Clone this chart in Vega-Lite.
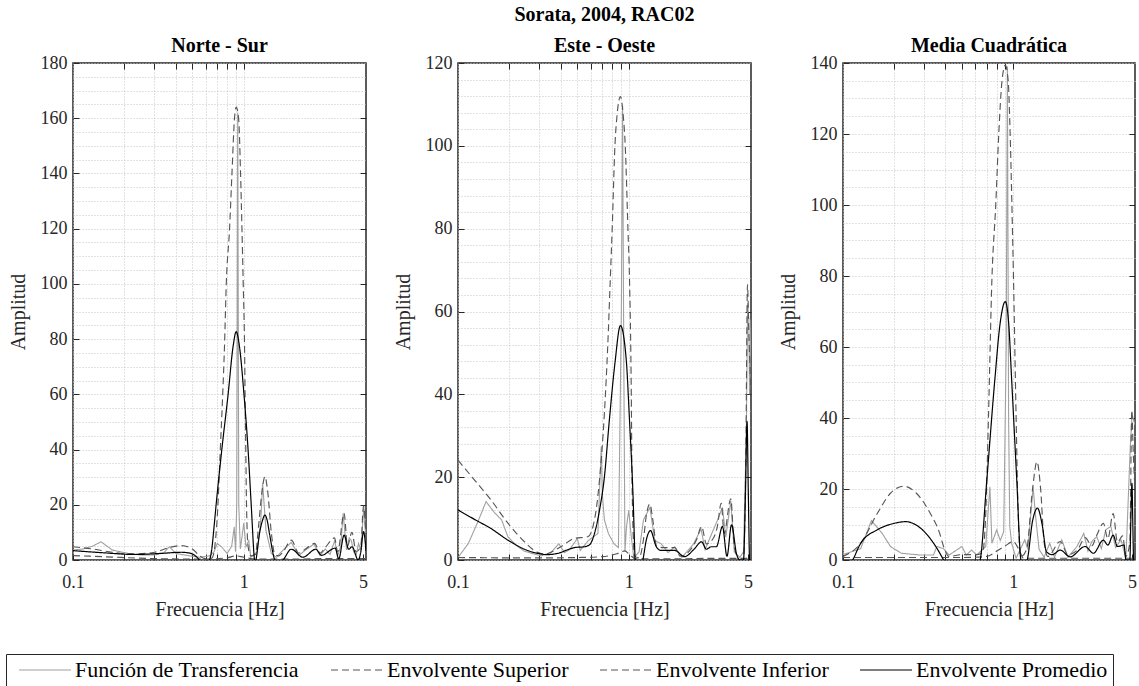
{
 "$schema": "https://vega.github.io/schema/vega-lite/v6.json",
 "padding": {"left": 5, "top": 5, "right": 3, "bottom": 0},
 "title": {"text": "Sorata, 2004, RAC02", "anchor": "middle", "frame": "bounds", "dx": 33, "fontSize": 20, "fontWeight": "bold", "font": "Liberation Serif", "color": "#000", "offset": 10},
 "data": {"values": [
{"p":1,"s":"T","f":0.1,"a":3.6},{"p":1,"s":"T","f":0.115,"a":4.0},{"p":1,"s":"T","f":0.13,"a":5.0},{"p":1,"s":"T","f":0.146,"a":6.6},{"p":1,"s":"T","f":0.17,"a":3.6},{"p":1,"s":"T","f":0.21,"a":2.4},{"p":1,"s":"T","f":0.25,"a":1.8},{"p":1,"s":"T","f":0.3,"a":1.8},{"p":1,"s":"T","f":0.34,"a":2.6},{"p":1,"s":"T","f":0.367,"a":4.8},{"p":1,"s":"T","f":0.4,"a":2.4},{"p":1,"s":"T","f":0.47,"a":1.6},{"p":1,"s":"T","f":0.55,"a":1.0},{"p":1,"s":"T","f":0.63,"a":1.5},{"p":1,"s":"T","f":0.67,"a":3.0},{"p":1,"s":"T","f":0.7,"a":6.0},{"p":1,"s":"T","f":0.74,"a":4.8},{"p":1,"s":"T","f":0.8,"a":2.4},{"p":1,"s":"T","f":0.85,"a":5},{"p":1,"s":"T","f":0.88,"a":12},{"p":1,"s":"T","f":0.895,"a":3},{"p":1,"s":"T","f":0.91,"a":20},{"p":1,"s":"T","f":0.922,"a":162},{"p":1,"s":"T","f":0.935,"a":20},{"p":1,"s":"T","f":0.955,"a":4},{"p":1,"s":"T","f":0.975,"a":8},{"p":1,"s":"T","f":1.0,"a":13.4},{"p":1,"s":"T","f":1.03,"a":4.8},{"p":1,"s":"T","f":1.07,"a":7},{"p":1,"s":"T","f":1.1,"a":1.0},{"p":1,"s":"T","f":1.2,"a":3},{"p":1,"s":"T","f":1.26,"a":15},{"p":1,"s":"T","f":1.29,"a":27.8},{"p":1,"s":"T","f":1.35,"a":10.6},{"p":1,"s":"T","f":1.45,"a":2.4},{"p":1,"s":"T","f":1.55,"a":1.0},{"p":1,"s":"T","f":1.7,"a":3.6},{"p":1,"s":"T","f":1.9,"a":6.4},{"p":1,"s":"T","f":2.1,"a":1.6},{"p":1,"s":"T","f":2.3,"a":3.6},{"p":1,"s":"T","f":2.58,"a":5.8},{"p":1,"s":"T","f":2.8,"a":1.6},{"p":1,"s":"T","f":3.0,"a":4.0},{"p":1,"s":"T","f":3.2,"a":2},{"p":1,"s":"T","f":3.41,"a":7},{"p":1,"s":"T","f":3.55,"a":1.5},{"p":1,"s":"T","f":3.7,"a":5},{"p":1,"s":"T","f":3.82,"a":16.9},{"p":1,"s":"T","f":4.0,"a":3.6},{"p":1,"s":"T","f":4.15,"a":8},{"p":1,"s":"T","f":4.27,"a":7},{"p":1,"s":"T","f":4.4,"a":3},{"p":1,"s":"T","f":4.55,"a":1.6},{"p":1,"s":"T","f":4.7,"a":6},{"p":1,"s":"T","f":4.85,"a":3.6},{"p":1,"s":"T","f":5.05,"a":19.3},{"p":1,"s":"T","f":5.2,"a":7},
{"p":1,"s":"S","f":0.1,"a":4.8},{"p":1,"s":"S","f":0.13,"a":4.0},{"p":1,"s":"S","f":0.17,"a":2.8},{"p":1,"s":"S","f":0.23,"a":2.2},{"p":1,"s":"S","f":0.3,"a":2.8},{"p":1,"s":"S","f":0.37,"a":4.6},{"p":1,"s":"S","f":0.43,"a":5.2},{"p":1,"s":"S","f":0.5,"a":4.0},{"p":1,"s":"S","f":0.55,"a":1.6},{"p":1,"s":"S","f":0.6,"a":0.4},{"p":1,"s":"S","f":0.65,"a":0.7},{"p":1,"s":"S","f":0.67,"a":3},{"p":1,"s":"S","f":0.706,"a":20},{"p":1,"s":"S","f":0.729,"a":40},{"p":1,"s":"S","f":0.753,"a":60},{"p":1,"s":"S","f":0.771,"a":77},{"p":1,"s":"S","f":0.79,"a":100},{"p":1,"s":"S","f":0.826,"a":120},{"p":1,"s":"S","f":0.853,"a":140},{"p":1,"s":"S","f":0.883,"a":160},{"p":1,"s":"S","f":0.903,"a":164},{"p":1,"s":"S","f":0.933,"a":160},{"p":1,"s":"S","f":0.958,"a":140},{"p":1,"s":"S","f":0.976,"a":120},{"p":1,"s":"S","f":0.993,"a":100},{"p":1,"s":"S","f":1.011,"a":77},{"p":1,"s":"S","f":1.02,"a":55},{"p":1,"s":"S","f":1.028,"a":40},{"p":1,"s":"S","f":1.038,"a":20},{"p":1,"s":"S","f":1.06,"a":5},{"p":1,"s":"S","f":1.1,"a":1.5},{"p":1,"s":"S","f":1.17,"a":2},{"p":1,"s":"S","f":1.22,"a":12},{"p":1,"s":"S","f":1.28,"a":25},{"p":1,"s":"S","f":1.33,"a":30.2},{"p":1,"s":"S","f":1.38,"a":25},{"p":1,"s":"S","f":1.45,"a":10},{"p":1,"s":"S","f":1.52,"a":2},{"p":1,"s":"S","f":1.6,"a":1.5},{"p":1,"s":"S","f":1.7,"a":3},{"p":1,"s":"S","f":1.9,"a":7.2},{"p":1,"s":"S","f":2.1,"a":2.5},{"p":1,"s":"S","f":2.3,"a":4},{"p":1,"s":"S","f":2.6,"a":6},{"p":1,"s":"S","f":2.8,"a":2.5},{"p":1,"s":"S","f":3.0,"a":4.5},{"p":1,"s":"S","f":3.4,"a":8},{"p":1,"s":"S","f":3.55,"a":3},{"p":1,"s":"S","f":3.87,"a":16.9},{"p":1,"s":"S","f":4.05,"a":5},{"p":1,"s":"S","f":4.3,"a":10},{"p":1,"s":"S","f":4.55,"a":3},{"p":1,"s":"S","f":4.85,"a":5},{"p":1,"s":"S","f":5.03,"a":19.6},{"p":1,"s":"S","f":5.2,"a":8},
{"p":1,"s":"I","f":0.1,"a":1.6},{"p":1,"s":"I","f":0.15,"a":1.2},{"p":1,"s":"I","f":0.3,"a":0.5},{"p":1,"s":"I","f":0.6,"a":0.3},{"p":1,"s":"I","f":0.8,"a":0.8},{"p":1,"s":"I","f":0.9,"a":1.5},{"p":1,"s":"I","f":1.0,"a":1.0},{"p":1,"s":"I","f":1.2,"a":0.3},{"p":1,"s":"I","f":2.0,"a":0.3},{"p":1,"s":"I","f":3.0,"a":0.5},{"p":1,"s":"I","f":4.0,"a":0.5},{"p":1,"s":"I","f":5.2,"a":0.5},
{"p":1,"s":"P","f":0.1,"a":3.4},{"p":1,"s":"P","f":0.152,"a":2.6},{"p":1,"s":"P","f":0.23,"a":2.0},{"p":1,"s":"P","f":0.33,"a":2.4},{"p":1,"s":"P","f":0.43,"a":2.8},{"p":1,"s":"P","f":0.49,"a":2.4},{"p":1,"s":"P","f":0.55,"a":0},{"p":1,"s":"P","f":0.58,"a":-2},{"p":1,"s":"P","f":0.61,"a":-1},{"p":1,"s":"P","f":0.63,"a":0},{"p":1,"s":"P","f":0.65,"a":4},{"p":1,"s":"P","f":0.67,"a":12},{"p":1,"s":"P","f":0.689,"a":20},{"p":1,"s":"P","f":0.744,"a":40},{"p":1,"s":"P","f":0.81,"a":60},{"p":1,"s":"P","f":0.866,"a":77.3},{"p":1,"s":"P","f":0.903,"a":82.7},{"p":1,"s":"P","f":0.944,"a":77.3},{"p":1,"s":"P","f":1.003,"a":60},{"p":1,"s":"P","f":1.06,"a":40},{"p":1,"s":"P","f":1.106,"a":20},{"p":1,"s":"P","f":1.155,"a":0},{"p":1,"s":"P","f":1.165,"a":-2},{"p":1,"s":"P","f":1.18,"a":0},{"p":1,"s":"P","f":1.24,"a":10},{"p":1,"s":"P","f":1.29,"a":14.5},{"p":1,"s":"P","f":1.33,"a":16.3},{"p":1,"s":"P","f":1.37,"a":14.5},{"p":1,"s":"P","f":1.42,"a":9},{"p":1,"s":"P","f":1.52,"a":0},{"p":1,"s":"P","f":1.6,"a":-1.5},{"p":1,"s":"P","f":1.7,"a":0},{"p":1,"s":"P","f":1.9,"a":3.9},{"p":1,"s":"P","f":2.22,"a":1.0},{"p":1,"s":"P","f":2.64,"a":3.9},{"p":1,"s":"P","f":2.85,"a":1.7},{"p":1,"s":"P","f":3.43,"a":4.3},{"p":1,"s":"P","f":3.6,"a":0.4},{"p":1,"s":"P","f":3.87,"a":9.0},{"p":1,"s":"P","f":4.12,"a":3.9},{"p":1,"s":"P","f":4.31,"a":4.8},{"p":1,"s":"P","f":4.68,"a":0},{"p":1,"s":"P","f":4.85,"a":3},{"p":1,"s":"P","f":5.03,"a":10.3},{"p":1,"s":"P","f":5.2,"a":3.3},
{"p":2,"s":"T","f":0.1,"a":0.6},{"p":2,"s":"T","f":0.115,"a":4},{"p":2,"s":"T","f":0.13,"a":9},{"p":2,"s":"T","f":0.146,"a":14.1},{"p":2,"s":"T","f":0.163,"a":11.5},{"p":2,"s":"T","f":0.18,"a":9.7},{"p":2,"s":"T","f":0.196,"a":5.6},{"p":2,"s":"T","f":0.22,"a":3.5},{"p":2,"s":"T","f":0.245,"a":2.1},{"p":2,"s":"T","f":0.307,"a":1.0},{"p":2,"s":"T","f":0.35,"a":1.8},{"p":2,"s":"T","f":0.39,"a":3.9},{"p":2,"s":"T","f":0.42,"a":1.8},{"p":2,"s":"T","f":0.45,"a":2.5},{"p":2,"s":"T","f":0.5,"a":5.2},{"p":2,"s":"T","f":0.52,"a":2.3},{"p":2,"s":"T","f":0.58,"a":4.7},{"p":2,"s":"T","f":0.66,"a":6.4},{"p":2,"s":"T","f":0.69,"a":27.4},{"p":2,"s":"T","f":0.7,"a":16},{"p":2,"s":"T","f":0.72,"a":9.7},{"p":2,"s":"T","f":0.76,"a":6.4},{"p":2,"s":"T","f":0.82,"a":3.9},{"p":2,"s":"T","f":0.87,"a":3},{"p":2,"s":"T","f":0.905,"a":60},{"p":2,"s":"T","f":0.92,"a":109.6},{"p":2,"s":"T","f":0.935,"a":50},{"p":2,"s":"T","f":0.95,"a":2},{"p":2,"s":"T","f":0.97,"a":8},{"p":2,"s":"T","f":1.0,"a":12},{"p":2,"s":"T","f":1.03,"a":6.4},{"p":2,"s":"T","f":1.07,"a":0.5},{"p":2,"s":"T","f":1.15,"a":2},{"p":2,"s":"T","f":1.22,"a":9.7},{"p":2,"s":"T","f":1.33,"a":12.7},{"p":2,"s":"T","f":1.42,"a":4.7},{"p":2,"s":"T","f":1.55,"a":3.9},{"p":2,"s":"T","f":1.7,"a":1.8},{"p":2,"s":"T","f":1.86,"a":3.2},{"p":2,"s":"T","f":2.05,"a":0.6},{"p":2,"s":"T","f":2.4,"a":3.9},{"p":2,"s":"T","f":2.65,"a":7.5},{"p":2,"s":"T","f":2.8,"a":2.5},{"p":2,"s":"T","f":3.0,"a":5.5},{"p":2,"s":"T","f":3.3,"a":9.5},{"p":2,"s":"T","f":3.54,"a":12.7},{"p":2,"s":"T","f":3.7,"a":5.5},{"p":2,"s":"T","f":3.96,"a":14.3},{"p":2,"s":"T","f":4.15,"a":2},{"p":2,"s":"T","f":4.47,"a":0.6},{"p":2,"s":"T","f":4.7,"a":2},{"p":2,"s":"T","f":4.88,"a":30},{"p":2,"s":"T","f":4.97,"a":62},{"p":2,"s":"T","f":5.05,"a":58},{"p":2,"s":"T","f":5.1,"a":40},{"p":2,"s":"T","f":5.2,"a":58},
{"p":2,"s":"S","f":0.1,"a":24.1},{"p":2,"s":"S","f":0.125,"a":19.3},{"p":2,"s":"S","f":0.156,"a":14.5},{"p":2,"s":"S","f":0.196,"a":8.9},{"p":2,"s":"S","f":0.245,"a":4.4},{"p":2,"s":"S","f":0.29,"a":1.9},{"p":2,"s":"S","f":0.32,"a":1.4},{"p":2,"s":"S","f":0.4,"a":3.2},{"p":2,"s":"S","f":0.48,"a":5.2},{"p":2,"s":"S","f":0.576,"a":5.6},{"p":2,"s":"S","f":0.63,"a":9.7},{"p":2,"s":"S","f":0.674,"a":19.3},{"p":2,"s":"S","f":0.72,"a":35.4},{"p":2,"s":"S","f":0.753,"a":51.5},{"p":2,"s":"S","f":0.78,"a":68},{"p":2,"s":"S","f":0.8,"a":80},{"p":2,"s":"S","f":0.83,"a":100},{"p":2,"s":"S","f":0.856,"a":107.8},{"p":2,"s":"S","f":0.894,"a":111.9},{"p":2,"s":"S","f":0.925,"a":108},{"p":2,"s":"S","f":0.954,"a":100},{"p":2,"s":"S","f":0.989,"a":80},{"p":2,"s":"S","f":1.01,"a":68},{"p":2,"s":"S","f":1.035,"a":40},{"p":2,"s":"S","f":1.045,"a":19.3},{"p":2,"s":"S","f":1.08,"a":1},{"p":2,"s":"S","f":1.15,"a":0.5},{"p":2,"s":"S","f":1.22,"a":5},{"p":2,"s":"S","f":1.27,"a":11},{"p":2,"s":"S","f":1.33,"a":13.5},{"p":2,"s":"S","f":1.38,"a":10},{"p":2,"s":"S","f":1.46,"a":3.2},{"p":2,"s":"S","f":1.6,"a":3},{"p":2,"s":"S","f":1.86,"a":3},{"p":2,"s":"S","f":2.0,"a":0.9},{"p":2,"s":"S","f":2.3,"a":2.5},{"p":2,"s":"S","f":2.5,"a":5},{"p":2,"s":"S","f":2.67,"a":8.1},{"p":2,"s":"S","f":2.85,"a":3.9},{"p":2,"s":"S","f":3.1,"a":5},{"p":2,"s":"S","f":3.3,"a":8},{"p":2,"s":"S","f":3.48,"a":13.7},{"p":2,"s":"S","f":3.62,"a":6.4},{"p":2,"s":"S","f":3.96,"a":14.8},{"p":2,"s":"S","f":4.15,"a":3.2},{"p":2,"s":"S","f":4.47,"a":0},{"p":2,"s":"S","f":4.7,"a":0.5},{"p":2,"s":"S","f":4.85,"a":25},{"p":2,"s":"S","f":4.96,"a":66.5},{"p":2,"s":"S","f":5.05,"a":55},{"p":2,"s":"S","f":5.2,"a":40},
{"p":2,"s":"I","f":0.1,"a":0.6},{"p":2,"s":"I","f":0.3,"a":0.5},{"p":2,"s":"I","f":0.5,"a":0.6},{"p":2,"s":"I","f":0.7,"a":0.8},{"p":2,"s":"I","f":0.85,"a":1.5},{"p":2,"s":"I","f":0.95,"a":2.2},{"p":2,"s":"I","f":1.0,"a":1.5},{"p":2,"s":"I","f":1.1,"a":0.3},{"p":2,"s":"I","f":2.0,"a":0.3},{"p":2,"s":"I","f":3.0,"a":0.4},{"p":2,"s":"I","f":4.0,"a":0.4},{"p":2,"s":"I","f":5.2,"a":0.4},
{"p":2,"s":"P","f":0.1,"a":12.1},{"p":2,"s":"P","f":0.125,"a":9.8},{"p":2,"s":"P","f":0.156,"a":7.6},{"p":2,"s":"P","f":0.196,"a":4.8},{"p":2,"s":"P","f":0.245,"a":2.6},{"p":2,"s":"P","f":0.307,"a":1.45},{"p":2,"s":"P","f":0.33,"a":1.3},{"p":2,"s":"P","f":0.384,"a":1.6},{"p":2,"s":"P","f":0.44,"a":2.5},{"p":2,"s":"P","f":0.481,"a":3.0},{"p":2,"s":"P","f":0.55,"a":3.2},{"p":2,"s":"P","f":0.59,"a":3.7},{"p":2,"s":"P","f":0.63,"a":6.4},{"p":2,"s":"P","f":0.674,"a":12},{"p":2,"s":"P","f":0.72,"a":20},{"p":2,"s":"P","f":0.77,"a":33.8},{"p":2,"s":"P","f":0.83,"a":47.5},{"p":2,"s":"P","f":0.894,"a":56.6},{"p":2,"s":"P","f":0.967,"a":48.3},{"p":2,"s":"P","f":1.01,"a":33.8},{"p":2,"s":"P","f":1.06,"a":15.3},{"p":2,"s":"P","f":1.09,"a":0},{"p":2,"s":"P","f":1.12,"a":-5},{"p":2,"s":"P","f":1.18,"a":-2},{"p":2,"s":"P","f":1.21,"a":0},{"p":2,"s":"P","f":1.27,"a":5},{"p":2,"s":"P","f":1.34,"a":7.1},{"p":2,"s":"P","f":1.45,"a":3.2},{"p":2,"s":"P","f":1.55,"a":2.3},{"p":2,"s":"P","f":1.86,"a":2.3},{"p":2,"s":"P","f":2.12,"a":0.8},{"p":2,"s":"P","f":2.4,"a":2.5},{"p":2,"s":"P","f":2.67,"a":4.4},{"p":2,"s":"P","f":2.85,"a":2.6},{"p":2,"s":"P","f":3.04,"a":3.2},{"p":2,"s":"P","f":3.26,"a":3.2},{"p":2,"s":"P","f":3.54,"a":8.1},{"p":2,"s":"P","f":3.76,"a":0.9},{"p":2,"s":"P","f":4.0,"a":8.5},{"p":2,"s":"P","f":4.28,"a":1.4},{"p":2,"s":"P","f":4.47,"a":0},{"p":2,"s":"P","f":4.7,"a":0},{"p":2,"s":"P","f":4.82,"a":15},{"p":2,"s":"P","f":4.93,"a":33.4},{"p":2,"s":"P","f":5.02,"a":15},{"p":2,"s":"P","f":5.1,"a":0},{"p":2,"s":"P","f":5.2,"a":-3},
{"p":3,"s":"T","f":0.1,"a":1.5},{"p":3,"s":"T","f":0.127,"a":3.2},{"p":3,"s":"T","f":0.147,"a":11.1},{"p":3,"s":"T","f":0.17,"a":7.5},{"p":3,"s":"T","f":0.19,"a":3.8},{"p":3,"s":"T","f":0.22,"a":1.9},{"p":3,"s":"T","f":0.285,"a":1.4},{"p":3,"s":"T","f":0.34,"a":1.4},{"p":3,"s":"T","f":0.356,"a":3.8},{"p":3,"s":"T","f":0.39,"a":3.2},{"p":3,"s":"T","f":0.42,"a":1.4},{"p":3,"s":"T","f":0.5,"a":3.8},{"p":3,"s":"T","f":0.53,"a":1.4},{"p":3,"s":"T","f":0.57,"a":2.8},{"p":3,"s":"T","f":0.61,"a":1.4},{"p":3,"s":"T","f":0.69,"a":3.8},{"p":3,"s":"T","f":0.73,"a":20.6},{"p":3,"s":"T","f":0.75,"a":4.7},{"p":3,"s":"T","f":0.8,"a":8.5},{"p":3,"s":"T","f":0.84,"a":5.5},{"p":3,"s":"T","f":0.88,"a":8},{"p":3,"s":"T","f":0.91,"a":60},{"p":3,"s":"T","f":0.925,"a":139},{"p":3,"s":"T","f":0.94,"a":40},{"p":3,"s":"T","f":0.955,"a":9.5},{"p":3,"s":"T","f":0.98,"a":4.7},{"p":3,"s":"T","f":1.04,"a":0.5},{"p":3,"s":"T","f":1.17,"a":5.7},{"p":3,"s":"T","f":1.22,"a":3},{"p":3,"s":"T","f":1.31,"a":20.6},{"p":3,"s":"T","f":1.35,"a":13},{"p":3,"s":"T","f":1.42,"a":3},{"p":3,"s":"T","f":1.52,"a":0.8},{"p":3,"s":"T","f":1.64,"a":4.7},{"p":3,"s":"T","f":1.75,"a":0.8},{"p":3,"s":"T","f":1.93,"a":5.7},{"p":3,"s":"T","f":2.1,"a":0.8},{"p":3,"s":"T","f":2.37,"a":3.8},{"p":3,"s":"T","f":2.6,"a":7.5},{"p":3,"s":"T","f":2.75,"a":2.5},{"p":3,"s":"T","f":2.9,"a":5.2},{"p":3,"s":"T","f":3.1,"a":6.6},{"p":3,"s":"T","f":3.3,"a":3.2},{"p":3,"s":"T","f":3.5,"a":8.5},{"p":3,"s":"T","f":3.75,"a":9.5},{"p":3,"s":"T","f":4.0,"a":3.5},{"p":3,"s":"T","f":4.3,"a":5.7},{"p":3,"s":"T","f":4.6,"a":0.5},{"p":3,"s":"T","f":4.88,"a":32},{"p":3,"s":"T","f":5.0,"a":41},{"p":3,"s":"T","f":5.2,"a":38},
{"p":3,"s":"S","f":0.1,"a":1.0},{"p":3,"s":"S","f":0.127,"a":4.7},{"p":3,"s":"S","f":0.159,"a":13.1},{"p":3,"s":"S","f":0.19,"a":18.8},{"p":3,"s":"S","f":0.227,"a":20.8},{"p":3,"s":"S","f":0.27,"a":18.8},{"p":3,"s":"S","f":0.326,"a":13.1},{"p":3,"s":"S","f":0.37,"a":7.5},{"p":3,"s":"S","f":0.39,"a":3.8},{"p":3,"s":"S","f":0.42,"a":1.0},{"p":3,"s":"S","f":0.5,"a":1.5},{"p":3,"s":"S","f":0.6,"a":1.5},{"p":3,"s":"S","f":0.66,"a":2},{"p":3,"s":"S","f":0.69,"a":13},{"p":3,"s":"S","f":0.717,"a":41.4},{"p":3,"s":"S","f":0.75,"a":79},{"p":3,"s":"S","f":0.79,"a":100},{"p":3,"s":"S","f":0.823,"a":120},{"p":3,"s":"S","f":0.86,"a":135},{"p":3,"s":"S","f":0.899,"a":139.4},{"p":3,"s":"S","f":0.935,"a":135},{"p":3,"s":"S","f":0.96,"a":120},{"p":3,"s":"S","f":0.983,"a":100},{"p":3,"s":"S","f":1.004,"a":80},{"p":3,"s":"S","f":1.04,"a":41},{"p":3,"s":"S","f":1.07,"a":13},{"p":3,"s":"S","f":1.11,"a":1},{"p":3,"s":"S","f":1.2,"a":3},{"p":3,"s":"S","f":1.3,"a":20},{"p":3,"s":"S","f":1.38,"a":27.7},{"p":3,"s":"S","f":1.45,"a":20},{"p":3,"s":"S","f":1.52,"a":5},{"p":3,"s":"S","f":1.6,"a":1},{"p":3,"s":"S","f":1.89,"a":5.2},{"p":3,"s":"S","f":2.1,"a":1.5},{"p":3,"s":"S","f":2.4,"a":3},{"p":3,"s":"S","f":2.65,"a":6.3},{"p":3,"s":"S","f":2.9,"a":4},{"p":3,"s":"S","f":3.1,"a":7},{"p":3,"s":"S","f":3.39,"a":10.3},{"p":3,"s":"S","f":3.6,"a":6},{"p":3,"s":"S","f":3.87,"a":13.1},{"p":3,"s":"S","f":4.1,"a":5},{"p":3,"s":"S","f":4.4,"a":6.8},{"p":3,"s":"S","f":4.6,"a":1},{"p":3,"s":"S","f":4.85,"a":5},{"p":3,"s":"S","f":4.98,"a":42.2},{"p":3,"s":"S","f":5.08,"a":30},{"p":3,"s":"S","f":5.2,"a":20},
{"p":3,"s":"I","f":0.1,"a":0.7},{"p":3,"s":"I","f":0.3,"a":0.7},{"p":3,"s":"I","f":0.5,"a":0.7},{"p":3,"s":"I","f":0.7,"a":1},{"p":3,"s":"I","f":0.8,"a":2.5},{"p":3,"s":"I","f":0.9,"a":4},{"p":3,"s":"I","f":1.0,"a":5.2},{"p":3,"s":"I","f":1.08,"a":3},{"p":3,"s":"I","f":1.15,"a":0.5},{"p":3,"s":"I","f":2.0,"a":0.5},{"p":3,"s":"I","f":3.0,"a":0.5},{"p":3,"s":"I","f":4.0,"a":0.5},{"p":3,"s":"I","f":5.2,"a":0.5},
{"p":3,"s":"P","f":0.1,"a":-4},{"p":3,"s":"P","f":0.114,"a":0},{"p":3,"s":"P","f":0.127,"a":4.7},{"p":3,"s":"P","f":0.159,"a":8.5},{"p":3,"s":"P","f":0.199,"a":10.3},{"p":3,"s":"P","f":0.233,"a":10.8},{"p":3,"s":"P","f":0.285,"a":9.0},{"p":3,"s":"P","f":0.341,"a":4.7},{"p":3,"s":"P","f":0.39,"a":0},{"p":3,"s":"P","f":0.42,"a":-3},{"p":3,"s":"P","f":0.6,"a":-3},{"p":3,"s":"P","f":0.64,"a":0},{"p":3,"s":"P","f":0.7,"a":22.5},{"p":3,"s":"P","f":0.78,"a":50.7},{"p":3,"s":"P","f":0.84,"a":67},{"p":3,"s":"P","f":0.899,"a":72.8},{"p":3,"s":"P","f":0.94,"a":67},{"p":3,"s":"P","f":0.98,"a":50.7},{"p":3,"s":"P","f":1.05,"a":22.5},{"p":3,"s":"P","f":1.11,"a":0},{"p":3,"s":"P","f":1.15,"a":-2},{"p":3,"s":"P","f":1.21,"a":0},{"p":3,"s":"P","f":1.3,"a":11},{"p":3,"s":"P","f":1.39,"a":14.6},{"p":3,"s":"P","f":1.48,"a":10},{"p":3,"s":"P","f":1.57,"a":2.3},{"p":3,"s":"P","f":1.7,"a":1.5},{"p":3,"s":"P","f":1.89,"a":2.8},{"p":3,"s":"P","f":2.16,"a":0.9},{"p":3,"s":"P","f":2.65,"a":3.8},{"p":3,"s":"P","f":2.96,"a":1.9},{"p":3,"s":"P","f":3.39,"a":5.6},{"p":3,"s":"P","f":3.6,"a":4.2},{"p":3,"s":"P","f":3.87,"a":7.0},{"p":3,"s":"P","f":4.1,"a":3.8},{"p":3,"s":"P","f":4.48,"a":4.2},{"p":3,"s":"P","f":4.6,"a":0},{"p":3,"s":"P","f":4.85,"a":0},{"p":3,"s":"P","f":4.92,"a":12},{"p":3,"s":"P","f":4.99,"a":21.6},{"p":3,"s":"P","f":5.05,"a":10},{"p":3,"s":"P","f":5.1,"a":0},{"p":3,"s":"P","f":5.2,"a":-3}
 ]},
 "spacing": 92,
 "bounds": "flush",
 "hconcat": [
  {
   "width": 293, "height": 497,
   "title": {"text": "Norte - Sur", "frame": "group", "offset": -2},
   "transform": [{"filter": "datum.p == 1"}],
   "resolve": {"axis": {"x": "independent", "y": "independent"}},
   "layer": [
    {
     "encoding": {
      "x": {"field": "f", "type": "quantitative", "title": "Frecuencia [Hz]", "scale": {"type": "log", "domain": [0.1, 5.2], "nice": false},
            "axis": {"values": [0.1,0.2,0.3,0.4,0.5,0.6,0.7,0.8,0.9,1,5], "labelExpr": "datum.value == 0.1 ? '0.1' : datum.value == 1 ? '1' : datum.value == 5 ? '5' : ''", "labelPadding": 19, "gridOpacity": {"condition": {"test": "datum.value == 5", "value": 0}, "value": 1}}},
      "y": {"field": "a", "type": "quantitative", "title": "Amplitud", "scale": {"domain": [0, 180], "nice": false, "zero": false},
            "axis": {"values": [0,5,10,15,20,25,30,35,40,45,50,55,60,65,70,75,80,85,90,95,100,105,110,115,120,125,130,135,140,145,150,155,160,165,170,175,180], "titlePadding": 12, "labelExpr": "datum.value % 20 == 0 ? datum.label : ''", "tickOpacity": {"condition": {"test": "datum.value % 20 != 0", "value": 0}, "value": 1}}},
      "color": {"field": "s", "type": "nominal", "title": null, "scale": {"domain": ["T","S","I","P"], "range": ["#a0a0a0","#555555","#555555","#000000"]},
                "legend": {"legendX": -67, "legendY": 591, "labelExpr": "datum.value == 'T' ? 'Función de Transferencia' : datum.value == 'S' ? 'Envolvente Superior' : datum.value == 'I' ? 'Envolvente Inferior' : 'Envolvente Promedio'"}},
      "strokeDash": {"field": "s", "type": "nominal", "title": null, "scale": {"domain": ["T","S","I","P"], "range": [[1,0],[7,4],[7,4],[1,0]]}},
      "strokeWidth": {"field": "s", "type": "nominal", "title": null, "scale": {"domain": ["T","S","I","P"], "range": [1.1,1.2,1.2,2.1]}}
     },
     "layer": [
      {"transform": [{"filter": "datum.s == 'T'"}], "mark": {"type": "line", "clip": true}},
      {"transform": [{"filter": "datum.s != 'T'"}], "mark": {"type": "line", "clip": true, "interpolate": "monotone"}}
     ]
    },
    {
     "mark": {"type": "point", "opacity": 0, "clip": true},
     "encoding": {
      "x": {"field": "f", "type": "quantitative", "scale": {"type": "log", "domain": [0.1, 5.2], "nice": false},
            "axis": {"orient": "top", "values": [0.2,0.3,0.4,0.5,0.6,0.7,0.8,0.9,1], "labels": false, "grid": false, "title": null, "domain": false}},
      "y": {"field": "a", "type": "quantitative", "scale": {"domain": [0, 180], "nice": false, "zero": false},
            "axis": {"orient": "right", "values": [20,40,60,80,100,120,140,160], "labels": false, "grid": false, "title": null, "domain": false}}
     }
    }
   ]
  },
  {
   "width": 293, "height": 497,
   "title": {"text": "Este - Oeste", "frame": "group", "offset": -2},
   "transform": [{"filter": "datum.p == 2"}],
   "resolve": {"axis": {"x": "independent", "y": "independent"}},
   "layer": [
    {
     "encoding": {
      "x": {"field": "f", "type": "quantitative", "title": "Frecuencia [Hz]", "scale": {"type": "log", "domain": [0.1, 5.2], "nice": false},
            "axis": {"values": [0.1,0.2,0.3,0.4,0.5,0.6,0.7,0.8,0.9,1,5], "labelExpr": "datum.value == 0.1 ? '0.1' : datum.value == 1 ? '1' : datum.value == 5 ? '5' : ''", "labelPadding": 19, "gridOpacity": {"condition": {"test": "datum.value == 5", "value": 0}, "value": 1}}},
      "y": {"field": "a", "type": "quantitative", "title": "Amplitud", "scale": {"domain": [0, 120], "nice": false, "zero": false},
            "axis": {"values": [0,4,8,12,16,20,24,28,32,36,40,44,48,52,56,60,64,68,72,76,80,84,88,92,96,100,104,108,112,116,120], "titlePadding": 12, "labelExpr": "datum.value % 20 == 0 ? datum.label : ''", "tickOpacity": {"condition": {"test": "datum.value % 20 != 0", "value": 0}, "value": 1}}},
      "color": {"field": "s", "type": "nominal", "title": null, "scale": {"domain": ["T","S","I","P"], "range": ["#a0a0a0","#555555","#555555","#000000"]}},
      "strokeDash": {"field": "s", "type": "nominal", "title": null, "scale": {"domain": ["T","S","I","P"], "range": [[1,0],[7,4],[7,4],[1,0]]}},
      "strokeWidth": {"field": "s", "type": "nominal", "title": null, "scale": {"domain": ["T","S","I","P"], "range": [1.1,1.2,1.2,2.1]}}
     },
     "layer": [
      {"transform": [{"filter": "datum.s == 'T'"}], "mark": {"type": "line", "clip": true}},
      {"transform": [{"filter": "datum.s != 'T'"}], "mark": {"type": "line", "clip": true, "interpolate": "monotone"}}
     ]
    },
    {
     "mark": {"type": "point", "opacity": 0, "clip": true},
     "encoding": {
      "x": {"field": "f", "type": "quantitative", "scale": {"type": "log", "domain": [0.1, 5.2], "nice": false},
            "axis": {"orient": "top", "values": [0.2,0.3,0.4,0.5,0.6,0.7,0.8,0.9,1], "labels": false, "grid": false, "title": null, "domain": false}},
      "y": {"field": "a", "type": "quantitative", "scale": {"domain": [0, 120], "nice": false, "zero": false},
            "axis": {"orient": "right", "values": [20,40,60,80,100], "labels": false, "grid": false, "title": null, "domain": false}}
     }
    }
   ]
  },
  {
   "width": 292, "height": 497,
   "title": {"text": "Media Cuadrática", "frame": "group", "offset": -2},
   "transform": [{"filter": "datum.p == 3"}],
   "resolve": {"axis": {"x": "independent", "y": "independent"}},
   "layer": [
    {
     "encoding": {
      "x": {"field": "f", "type": "quantitative", "title": "Frecuencia [Hz]", "scale": {"type": "log", "domain": [0.1, 5.2], "nice": false},
            "axis": {"values": [0.1,0.2,0.3,0.4,0.5,0.6,0.7,0.8,0.9,1,5], "labelExpr": "datum.value == 0.1 ? '0.1' : datum.value == 1 ? '1' : datum.value == 5 ? '5' : ''", "labelPadding": 19, "gridOpacity": {"condition": {"test": "datum.value == 5", "value": 0}, "value": 1}}},
      "y": {"field": "a", "type": "quantitative", "title": "Amplitud", "scale": {"domain": [0, 140], "nice": false, "zero": false},
            "axis": {"values": [0,5,10,15,20,25,30,35,40,45,50,55,60,65,70,75,80,85,90,95,100,105,110,115,120,125,130,135,140], "titlePadding": 12, "labelExpr": "datum.value % 20 == 0 ? datum.label : ''", "tickOpacity": {"condition": {"test": "datum.value % 20 != 0", "value": 0}, "value": 1}}},
      "color": {"field": "s", "type": "nominal", "title": null, "scale": {"domain": ["T","S","I","P"], "range": ["#a0a0a0","#555555","#555555","#000000"]}},
      "strokeDash": {"field": "s", "type": "nominal", "title": null, "scale": {"domain": ["T","S","I","P"], "range": [[1,0],[7,4],[7,4],[1,0]]}},
      "strokeWidth": {"field": "s", "type": "nominal", "title": null, "scale": {"domain": ["T","S","I","P"], "range": [1.1,1.2,1.2,2.1]}}
     },
     "layer": [
      {"transform": [{"filter": "datum.s == 'T'"}], "mark": {"type": "line", "clip": true}},
      {"transform": [{"filter": "datum.s != 'T'"}], "mark": {"type": "line", "clip": true, "interpolate": "monotone"}}
     ]
    },
    {
     "mark": {"type": "point", "opacity": 0, "clip": true},
     "encoding": {
      "x": {"field": "f", "type": "quantitative", "scale": {"type": "log", "domain": [0.1, 5.2], "nice": false},
            "axis": {"orient": "top", "values": [0.2,0.3,0.4,0.5,0.6,0.7,0.8,0.9,1], "labels": false, "grid": false, "title": null, "domain": false}},
      "y": {"field": "a", "type": "quantitative", "scale": {"domain": [0, 140], "nice": false, "zero": false},
            "axis": {"orient": "right", "values": [20,40,60,80,100,120], "labels": false, "grid": false, "title": null, "domain": false}}
     }
    }
   ]
  }
 ],
 "config": {
  "font": "Liberation Serif",
  "view": {"stroke": "#262626", "strokeWidth": 1.5},
  "title": {"font": "Liberation Serif", "fontSize": 20, "fontWeight": "bold", "color": "#000"},
  "axis": {"labelFont": "Liberation Serif", "labelFontSize": 18, "labelColor": "#262626", "titleFont": "Liberation Serif", "titleFontSize": 20, "titleFontWeight": "normal", "titleColor": "#262626", "domain": false, "tickColor": "#262626", "tickSize": -6, "tickWidth": 1, "labelPadding": 12, "titlePadding": 8, "gridColor": "#c4c4c4", "gridDash": [1, 2], "gridWidth": 1, "labelFlush": false, "labelOverlap": false},
  "legend": {"orient": "none", "direction": "horizontal", "columns": 4, "labelFont": "Liberation Serif", "labelFontSize": 22, "labelColor": "#000", "symbolType": "M-2.6,0H2.6", "symbolSize": 400, "symbolOffset": 23, "labelOffset": 19, "columnPadding": 23, "padding": 5, "strokeColor": "#262626", "fillColor": "#ffffff", "labelLimit": 400}
 }
}
